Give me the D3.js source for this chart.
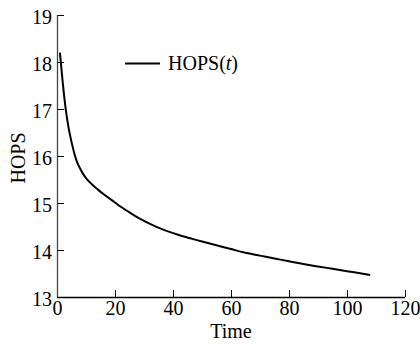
<!DOCTYPE html>
<html><head><meta charset="utf-8">
<script src="https://cdn.jsdelivr.net/npm/d3@7"></script>
<style>body{margin:0;background:#fff}svg{display:block}</style>
</head><body>
<svg id="c" width="420" height="347"></svg>
<script>
const time = [1,2,3,4,5,6,7,8,9,10,12,14,16,18,20,22,24,27,30,33,36,39,42,46,50,55,60,65,70,75,80,85,90,95,100,105,108];
const hops = [18.2,17.55,17.0,16.6,16.3,16.05,15.86,15.73,15.62,15.53,15.4,15.29,15.19,15.1,15.01,14.92,14.84,14.72,14.62,14.53,14.45,14.38,14.32,14.25,14.18,14.1,14.02,13.94,13.88,13.82,13.76,13.7,13.65,13.6,13.55,13.5,13.47];
const xTicks = [0,20,40,60,80,100,120];
const yTicks = [13,14,15,16,17,18,19];
const seriesName = "HOPS";

const svg = d3.select("#c");
const font = "'Liberation Serif','Times New Roman',serif";
const x = d3.scaleLinear().domain([0,120]).range([57,405]);
const y = d3.scaleLinear().domain([13,19]).range([297,15]);

const gx = svg.append("g").attr("transform","translate(0,297)")
  .call(d3.axisBottom(x).tickValues(xTicks).tickSize(-7).tickPadding(4).tickFormat(d3.format("d")));
const gy = svg.append("g").attr("transform","translate(57,0)")
  .call(d3.axisLeft(y).tickValues(yTicks).tickSize(-7).tickPadding(5).tickFormat(d3.format("d")));
[gx,gy].forEach(g=>{
  g.selectAll("text").attr("font-family",font).attr("font-size",20).attr("fill","#000");
  g.selectAll("line").attr("stroke","#000").attr("stroke-width",1);
  g.select(".domain").attr("stroke","#000").attr("stroke-width",1.3);
});
gy.select(".domain").attr("d","M0.5,"+y(19)+"V"+y(13)).attr("stroke","#444");
gy.selectAll(".tick line").attr("x1",0.5);
gy.selectAll("text").attr("dy","0.4em");
gx.select(".domain").attr("d","M"+x(0)+",0.5H"+x(120)).attr("stroke-width",1.6);

svg.append("path").datum(time.map((t,i)=>[t,hops[i]]))
  .attr("fill","none").attr("stroke","#000").attr("stroke-width",2)
  .attr("d", d3.line().x(d=>x(d[0])).y(d=>y(d[1])).curve(d3.curveMonotoneX));

// legend
svg.append("line").attr("x1",125).attr("x2",160).attr("y1",63.5).attr("y2",63.5)
  .attr("stroke","#000").attr("stroke-width",2);
const lt = svg.append("text").attr("x",168).attr("y",63).attr("dy","0.36em")
  .attr("font-family",font).attr("font-size",20);
lt.append("tspan").text(seriesName+"(");
lt.append("tspan").attr("font-style","italic").text("t");
lt.append("tspan").text(")");

svg.append("text").attr("x",x(60)).attr("y",338).attr("text-anchor","middle")
  .attr("font-family",font).attr("font-size",20).text("Time");
svg.append("text").attr("transform","translate(25,158) rotate(-90)").attr("text-anchor","middle")
  .attr("font-family",font).attr("font-size",20).text("HOPS");
</script>
</body></html>
